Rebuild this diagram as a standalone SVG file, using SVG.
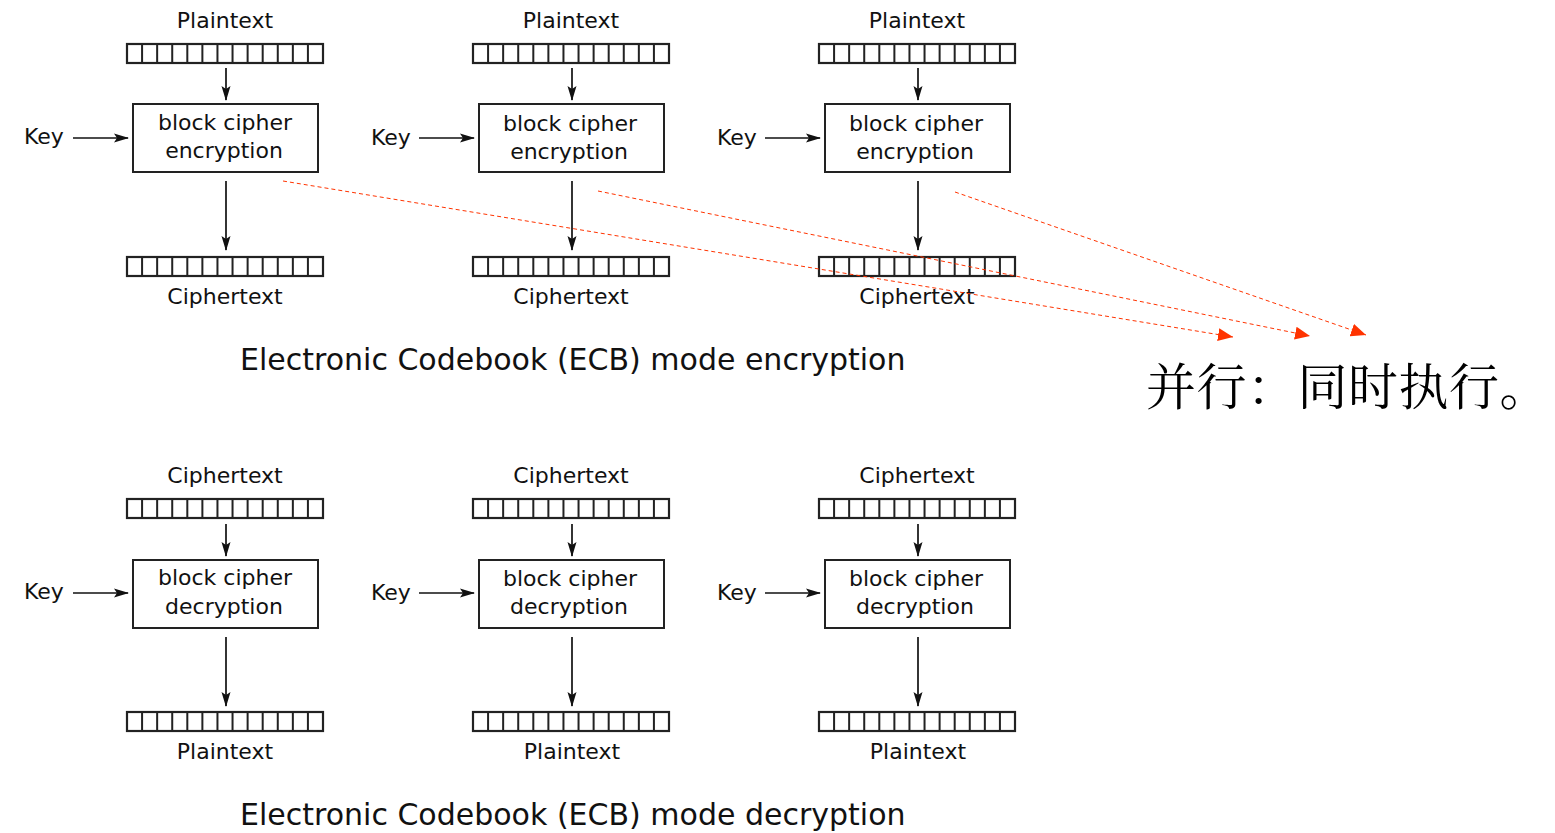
<svg xmlns="http://www.w3.org/2000/svg" xmlns:xlink="http://www.w3.org/1999/xlink" width="1555" height="833" viewBox="0 0 1555 833">
<style>
.t{font-family:"DejaVu Sans",sans-serif;font-size:22px;fill:#111;text-anchor:middle}
.k{font-family:"DejaVu Sans",sans-serif;font-size:22px;fill:#111}
.ttl{font-family:"DejaVu Sans",sans-serif;font-size:30px;fill:#111}
.box{fill:#fff;stroke:#222;stroke-width:2}
.ar{fill:none;stroke:#111;stroke-width:1.7;marker-end:url(#ah)}
.red{fill:none;stroke:#ff3300;stroke-width:1;stroke-dasharray:4 3;marker-end:url(#rh)}
.cn{font-family:"Noto Serif CJK SC","Noto Sans CJK SC",serif;font-size:50px;letter-spacing:0.5px;fill:#000}
</style>
<defs>
<marker id="ah" markerUnits="userSpaceOnUse" markerWidth="16" markerHeight="10" refX="14" refY="5" orient="auto" viewBox="0 0 16 10">
<path d="M15,5 L0,0.5 L3,5 L0,9.5 z" fill="#111"/>
</marker>
<marker id="rh" markerUnits="userSpaceOnUse" markerWidth="16" markerHeight="14" refX="15" refY="7" orient="auto" viewBox="0 0 16 14">
<path d="M15,7 L0,0.5 L0,13.5 z" fill="#ff3300"/>
</marker>
<g id="strip">
<rect x="0" y="0" width="196" height="19" fill="#fff" stroke="#222" stroke-width="2.2"/>
<path d="M15.08,0v19M30.15,0v19M45.23,0v19M60.31,0v19M75.38,0v19M90.46,0v19M105.54,0v19M120.62,0v19M135.69,0v19M150.77,0v19M165.85,0v19M180.92,0v19" stroke="#222" stroke-width="2"/>
</g>
</defs>

<g id="enc1">
<text class="t" x="225" y="28">Plaintext</text>
<use xlink:href="#strip" x="127" y="44"/>
<rect class="box" x="133" y="104" width="185" height="68"/>
<text class="t" x="225" y="130">block cipher</text>
<text class="t" x="224" y="158">encryption</text>
<text class="k" x="24" y="144">Key</text>
<use xlink:href="#strip" x="127" y="257"/>
<text class="t" x="225" y="304">Ciphertext</text>
</g>
<g id="enc2">
<text class="t" x="571" y="28">Plaintext</text>
<use xlink:href="#strip" x="473" y="44"/>
<rect class="box" x="479" y="104" width="185" height="68"/>
<text class="t" x="570" y="131">block cipher</text>
<text class="t" x="569" y="159">encryption</text>
<text class="k" x="371" y="145">Key</text>
<use xlink:href="#strip" x="473" y="257"/>
<text class="t" x="571" y="304">Ciphertext</text>
</g>
<g id="enc3">
<text class="t" x="917" y="28">Plaintext</text>
<use xlink:href="#strip" x="819" y="44"/>
<rect class="box" x="825" y="104" width="185" height="68"/>
<text class="t" x="916" y="131">block cipher</text>
<text class="t" x="915" y="159">encryption</text>
<text class="k" x="717" y="145">Key</text>
<use xlink:href="#strip" x="819" y="257"/>
<text class="t" x="917" y="304">Ciphertext</text>
</g>
<g id="enc-title">
<text class="ttl" x="240" y="370">Electronic Codebook (ECB) mode encryption</text>
</g>

<g id="dec1">
<text class="t" x="225" y="483">Ciphertext</text>
<use xlink:href="#strip" x="127" y="499"/>
<rect class="box" x="133" y="560" width="185" height="68"/>
<text class="t" x="225" y="585">block cipher</text>
<text class="t" x="224" y="614">decryption</text>
<text class="k" x="24" y="599">Key</text>
<use xlink:href="#strip" x="127" y="712"/>
<text class="t" x="225" y="759">Plaintext</text>
</g>
<g id="dec2">
<text class="t" x="571" y="483">Ciphertext</text>
<use xlink:href="#strip" x="473" y="499"/>
<rect class="box" x="479" y="560" width="185" height="68"/>
<text class="t" x="570" y="586">block cipher</text>
<text class="t" x="569" y="614">decryption</text>
<text class="k" x="371" y="600">Key</text>
<use xlink:href="#strip" x="473" y="712"/>
<text class="t" x="572" y="759">Plaintext</text>
</g>
<g id="dec3">
<text class="t" x="917" y="483">Ciphertext</text>
<use xlink:href="#strip" x="819" y="499"/>
<rect class="box" x="825" y="560" width="185" height="68"/>
<text class="t" x="916" y="586">block cipher</text>
<text class="t" x="915" y="614">decryption</text>
<text class="k" x="717" y="600">Key</text>
<use xlink:href="#strip" x="819" y="712"/>
<text class="t" x="918" y="759">Plaintext</text>
</g>
<g id="dec-title">
<text class="ttl" x="240" y="825">Electronic Codebook (ECB) mode decryption</text>
</g>

<g id="note">
<text class="cn" x="1146" y="405">并行：同时执行。</text>
</g>

<g id="connectors">
<line class="ar" x1="226" y1="68" x2="226" y2="100"/>
<line class="ar" x1="73" y1="138" x2="128" y2="138"/>
<line class="ar" x1="226" y1="181" x2="226" y2="250"/>
<line class="ar" x1="572" y1="68" x2="572" y2="100"/>
<line class="ar" x1="419" y1="138" x2="474" y2="138"/>
<line class="ar" x1="572" y1="181" x2="572" y2="250"/>
<line class="ar" x1="918" y1="68" x2="918" y2="100"/>
<line class="ar" x1="765" y1="138" x2="820" y2="138"/>
<line class="ar" x1="918" y1="181" x2="918" y2="250"/>

<line class="ar" x1="226" y1="524" x2="226" y2="556"/>
<line class="ar" x1="73" y1="593" x2="128" y2="593"/>
<line class="ar" x1="226" y1="637" x2="226" y2="706"/>
<line class="ar" x1="572" y1="524" x2="572" y2="556"/>
<line class="ar" x1="419" y1="593" x2="474" y2="593"/>
<line class="ar" x1="572" y1="637" x2="572" y2="706"/>
<line class="ar" x1="918" y1="524" x2="918" y2="556"/>
<line class="ar" x1="765" y1="593" x2="820" y2="593"/>
<line class="ar" x1="918" y1="637" x2="918" y2="706"/>

<line class="red" x1="283" y1="181" x2="1233" y2="337"/>
<line class="red" x1="598" y1="191" x2="1310" y2="336"/>
<line class="red" x1="955" y1="192" x2="1366" y2="335"/>
</g>
</svg>
